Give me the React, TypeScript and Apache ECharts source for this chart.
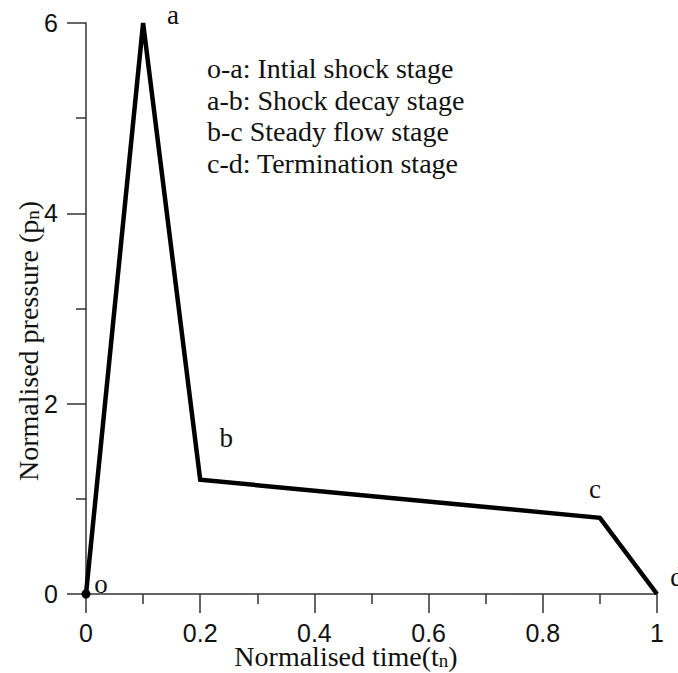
import React, { useEffect, useRef } from "react";
import * as echarts from "echarts";

const pointNames = ["o", "a", "b", "c", "d"];
const timeValues = [0, 0.1, 0.2, 0.9, 1];
const pressureValues = [0, 6, 1.2, 0.8, 0];
const labelOffsets: [number, number][] = [
  [15, -10],
  [30, -8],
  [26, -42],
  [-5, -29],
  [20, -17],
];
const stageLines = [
  "o-a: Intial shock stage",
  "a-b: Shock decay stage",
  "b-c Steady flow stage",
  "c-d: Termination stage",
];

const TEXT = "#111";
const SERIF = "'Liberation Serif', 'Times New Roman', serif";
const SANS = "'Liberation Sans', Arial, sans-serif";

export default function App() {
  const ref = useRef<HTMLDivElement>(null);
  useEffect(() => {
    if (!ref.current) return;
    const chart = echarts.init(ref.current, null, { renderer: "svg" });
    const data = timeValues.map((t, i) => ({
      value: [t, pressureValues[i]],
      name: pointNames[i],
      symbolSize: i === 0 ? 9 : 0,
      label: {
        show: true,
        position: "inside" as const,
        offset: labelOffsets[i],
        formatter: pointNames[i],
        fontFamily: SERIF,
        fontSize: 27,
        color: TEXT,
      },
    }));
    chart.setOption({
      animation: false,
      backgroundColor: "#fff",
      grid: { left: 86, right: 21, top: 23, bottom: 79, containLabel: false },
      xAxis: {
        type: "value",
        min: 0,
        max: 1,
        interval: 0.2,
        axisLine: { show: true, onZero: false, lineStyle: { color: "#333", width: 1.5 } },
        axisTick: { show: true, length: 19, lineStyle: { color: "#333", width: 1.5 } },
        minorTick: { show: true, splitNumber: 2, length: 10, lineStyle: { color: "#333", width: 1.5 } },
        splitLine: { show: false },
        axisLabel: { margin: 26, fontFamily: SANS, fontSize: 25, color: TEXT },
      },
      yAxis: {
        type: "value",
        min: 0,
        max: 6,
        interval: 2,
        axisLine: { show: true, onZero: false, lineStyle: { color: "#333", width: 1.5 } },
        axisTick: { show: true, length: 19, lineStyle: { color: "#333", width: 1.5 } },
        minorTick: { show: true, splitNumber: 2, length: 10, lineStyle: { color: "#333", width: 1.5 } },
        splitLine: { show: false },
        axisLabel: { margin: 28, fontFamily: SANS, fontSize: 25, color: TEXT },
      },
      series: [
        {
          type: "line",
          data,
          symbol: "circle",
          showSymbol: true,
          itemStyle: { color: "#000" },
          lineStyle: { color: "#000", width: 4.5, join: "miter" },
          clip: false,
        },
      ],
      graphic: [
        {
          type: "text",
          left: 207,
          top: 53,
          style: {
            text: stageLines.join("\n"),
            font: `28px ${SERIF}`,
            lineHeight: 31.5,
            fill: TEXT,
          },
        },
        {
          type: "text",
          x: 346,
          y: 656,
          style: {
            text: "Normalised time(t{s|n})",
            font: `28px ${SERIF}`,
            fill: TEXT,
            align: "center",
            verticalAlign: "middle",
            rich: {
              s: { font: `19px ${SERIF}`, fill: TEXT, padding: [9, 0, 0, 0] },
            },
          },
        },
        {
          type: "text",
          x: 28,
          y: 341,
          rotation: Math.PI / 2,
          style: {
            text: "Normalised pressure (p{s|n})",
            font: `28px ${SERIF}`,
            fill: TEXT,
            align: "center",
            verticalAlign: "middle",
            rich: {
              s: { font: `19px ${SERIF}`, fill: TEXT, padding: [9, 0, 0, 0] },
            },
          },
        },
      ],
    });
    return () => chart.dispose();
  }, []);
  return (
    <div
      ref={ref}
      style={{ position: "fixed", left: 0, top: 0, width: 678, height: 673, background: "#fff" }}
    />
  );
}
